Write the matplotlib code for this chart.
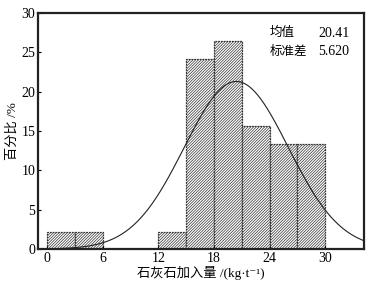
import numpy as np
import matplotlib
matplotlib.use("Agg")
import matplotlib.pyplot as plt

plt.rcParams['font.family'] = ['Liberation Serif', 'Noto Sans CJK SC', 'DejaVu Serif']
plt.rcParams['hatch.linewidth'] = 0.5
plt.rcParams['hatch.color'] = '#555555'

bin_left = [0, 3, 12, 15, 18, 21, 24, 27]
bin_width = 3
percent = [2.2, 2.2, 2.2, 24.2, 26.4, 15.6, 13.3, 13.3]
mean_val = 20.41
std_val = 5.620
xticks = [0, 6, 12, 18, 24, 30]
yticks = [0, 5, 10, 15, 20, 25, 30]

fig = plt.figure(figsize=(3.81, 2.88), dpi=100)
ax = fig.add_axes([0.0997, 0.1354, 0.8557, 0.8195])

ax.bar(bin_left, percent, width=bin_width, align='edge', facecolor='white',
       edgecolor='#333333', linewidth=0.9, linestyle=(0, (1.5, 0.7)), hatch='////////////')

xs = np.linspace(0, 35, 300)
ys = 100 * bin_width * np.exp(-0.5 * ((xs - mean_val) / std_val) ** 2) / (std_val * np.sqrt(2 * np.pi))
ax.plot(xs, ys, color='#222222', linewidth=0.8)

ax.set_xlim(-1, 34.2)
ax.set_ylim(0, 30)
ax.set_xticks(xticks)
ax.set_yticks(yticks)
ax.tick_params(direction='in', length=2, width=0.8, labelsize=10, pad=2)
for s in ax.spines.values():
    s.set_linewidth(1.6)
    s.set_color('#222222')

ax.set_xlabel('石灰石加入量 /(kg·t⁻¹)', fontsize=9.5, labelpad=1)
ax.set_ylabel('百分比 /%', fontsize=9.5, labelpad=2)

ax.text(0.71, 0.915, '均值', transform=ax.transAxes, fontsize=9, va='center', ha='left')
ax.text(0.955, 0.915, '20.41', transform=ax.transAxes, fontsize=10, va='center', ha='right')
ax.text(0.71, 0.835, '标准差', transform=ax.transAxes, fontsize=9, va='center', ha='left')
ax.text(0.955, 0.835, '5.620', transform=ax.transAxes, fontsize=10, va='center', ha='right')

fig.savefig('out.png', dpi=100)
